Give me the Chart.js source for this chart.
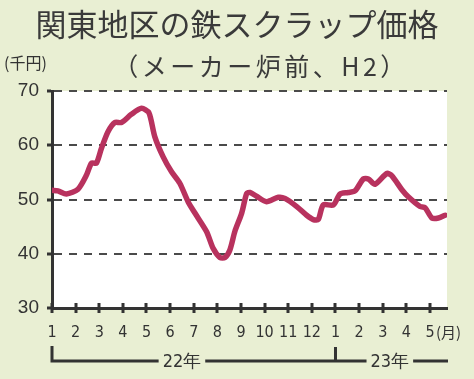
<!DOCTYPE html>
<html><head><meta charset="utf-8">
<script src="https://cdn.jsdelivr.net/npm/chart.js@4.4.1/dist/chart.umd.min.js"></script>
<style>html,body{margin:0;padding:0;background:#e9efd3;overflow:hidden;}</style>
</head><body>
<canvas id="c" width="474" height="379" style="display:block;width:474px;height:379px"></canvas>
<script>
// ---- data ----
const titleText = '関東地区の鉄スクラップ価格';
const subtitleText = '（メーカー炉前、H2）';
const unitLabel = '(千円)';
const monthUnit = '(月)';
const monthTicks = [1,2,3,4,5,6,7,8,9,10,11,12,13,14,15,16,17];
const monthLabels = ['1','2','3','4','5','6','7','8','9','10','11','12','1','2','3','4','5'];
const yearLabels = ['22年','23年'];
const yearStarts = [1, 13];
const yTicks = [30,40,50,60,70];
// position along the month axis (1 = Jan 2022) and price (thousand yen/t)
const weekPos = [1.0,1.25,1.61,2.10,2.46,2.67,2.88,3.09,3.37,3.66,3.94,4.36,4.79,5.10,5.35,5.70,6.06,6.41,6.76,7.05,7.54,7.82,8.11,8.32,8.53,8.74,9.03,9.24,9.38,9.66,10.08,10.58,10.86,11.36,11.78,12.06,12.27,12.48,12.91,13.19,13.54,13.83,14.18,14.39,14.67,15.17,15.38,15.81,16.08,16.58,16.79,17.08,17.36,17.64];
const price   = [51.7,51.6,51.0,51.9,54.5,56.7,56.7,59.4,62.5,64.2,64.2,65.7,66.8,66.0,61.6,57.9,55.1,53.0,49.6,47.5,44.1,41.0,39.3,39.3,40.7,44.1,47.5,51.1,51.3,50.6,49.6,50.4,50.2,48.7,47.1,46.3,46.3,49.0,49.0,51.0,51.3,51.6,53.8,53.8,52.8,54.8,54.4,51.8,50.5,48.7,48.5,46.6,46.6,47.1];

const INK = '#333333';
const points = weekPos.map((x, i) => ({x, y: price[i]}));

const decor = {
  id: 'decor',
  beforeDraw(chart) {
    const {ctx, chartArea: a} = chart;
    ctx.save();
    ctx.fillStyle = '#e9efd3';
    ctx.fillRect(0, 0, chart.width, chart.height);
    ctx.fillStyle = '#ffffff';
    ctx.fillRect(a.left, a.top, a.right - a.left, a.bottom - a.top);
    ctx.restore();
  },
  afterDraw(chart) {
    const {ctx, chartArea: a} = chart;
    const xs = chart.scales.x;
    ctx.save();
    ctx.strokeStyle = INK;
    ctx.fillStyle = INK;
    // subtitle (letter-spaced)
    ctx.fillStyle = '#3a3a3a';
    ctx.font = '25px "Noto Sans CJK JP"';
    ctx.textAlign = 'center';
    ctx.textBaseline = 'middle';
    try { ctx.letterSpacing = '3.5px'; } catch (e) {}
    ctx.fillText(subtitleText, 261, 66);
    try { ctx.letterSpacing = '0px'; } catch (e) {}
    ctx.fillStyle = INK;
    // crossing ticks on x axis
    ctx.lineWidth = 3;
    monthTicks.forEach(v => {
      const px = Math.round(xs.getPixelForValue(v));
      ctx.beginPath();
      ctx.moveTo(px, a.bottom - 5);
      ctx.lineTo(px, a.bottom + 5);
      ctx.stroke();
    });
    // (月)
    ctx.font = '15px "Noto Sans CJK JP"';
    ctx.textBaseline = 'middle';
    ctx.textAlign = 'left';
    ctx.fillText(monthUnit, xs.getPixelForValue(17) + 6, 332);
    // (千円)
    ctx.font = '16px "Noto Sans CJK JP"';
    ctx.fillText(unitLabel, 4, 63);
    // year brackets
    const yLine = 361;
    const x0 = xs.getPixelForValue(yearStarts[0]);
    const x1 = xs.getPixelForValue(yearStarts[1]);
    const xEnd = a.right + 1;
    const lab0 = xs.getPixelForValue(6.5);
    const lab1 = xs.getPixelForValue(15.3);
    ctx.font = '18px "Liberation Sans Narrow", "DejaVu Sans Condensed", sans-serif';
    ctx.textAlign = 'center';
    const w0 = ctx.measureText(yearLabels[0]).width / 2 + 4;
    const w1 = ctx.measureText(yearLabels[1]).width / 2 + 4;
    ctx.lineWidth = 3;
    ctx.beginPath();
    ctx.moveTo(x0, 346); ctx.lineTo(x0, yLine); ctx.lineTo(lab0 - w0, yLine);
    ctx.moveTo(lab0 + w0, yLine); ctx.lineTo(lab1 - w1, yLine);
    ctx.moveTo(lab1 + w1, yLine); ctx.lineTo(xEnd, yLine);
    ctx.moveTo(x1, 347); ctx.lineTo(x1, yLine);
    ctx.stroke();
    ctx.fillText(yearLabels[0], lab0, yLine + 1);
    ctx.fillText(yearLabels[1], lab1, yLine + 1);
    ctx.restore();
  }
};

new Chart(document.getElementById('c'), {
  type: 'line',
  data: {
    datasets: [{
      data: points,
      borderColor: '#b8325e',
      borderWidth: 5.5,
      pointRadius: 0,
      tension: 0.25,
      fill: false,
      borderCapStyle: 'round',
      borderJoinStyle: 'round'
    }]
  },
  options: {
    responsive: false,
    devicePixelRatio: 1,
    animation: false,
    layout: {padding: 0},
    plugins: {
      legend: {display: false},
      tooltip: {enabled: false},
      title: {
        display: true, text: titleText, color: '#3a3a3a',
        font: {family: '"Noto Sans CJK JP"', size: 31, weight: 'normal', lineHeight: 1},
        padding: {top: 9, bottom: 51}
      },
      subtitle: {display: false}
    },
    scales: {
      x: {
        type: 'linear', min: 1, max: 17.72,
        afterBuildTicks: s => { s.ticks = monthTicks.map(v => ({value: v})); },
        afterFit: s => { s.height = 71; },
        grid: {display: false, drawTicks: false},
        border: {display: true, color: INK, width: 3},
        ticks: {
          autoSkip: false, maxRotation: 0, padding: 15, color: INK,
          font: {family: '"Liberation Sans Narrow", "DejaVu Sans Condensed", sans-serif', size: 16},
          callback: (v) => monthLabels[monthTicks.indexOf(v)]
        }
      },
      y: {
        min: 30, max: 70,
        afterBuildTicks: s => { s.ticks = yTicks.map(v => ({value: v})); },
        afterFit: s => { s.width = 52; },
        grid: {
          color: '#4a4a4a', lineWidth: 2, tickLength: 5, tickWidth: 3, tickColor: INK,
          tickBorderDash: []
        },
        border: {display: true, color: INK, width: 3, dash: [8, 7], dashOffset: 0},
        ticks: {
          padding: 8, color: INK,
          font: {family: '"Liberation Sans", Arial, sans-serif', size: 19}
        }
      },
      pad: {
        type: 'linear', position: 'right', display: true,
        afterFit: s => { s.width = 27; },
        grid: {display: false, drawTicks: false},
        border: {display: false},
        ticks: {display: false}
      }
    }
  },
  plugins: [decor]
});
</script>
</body></html>
